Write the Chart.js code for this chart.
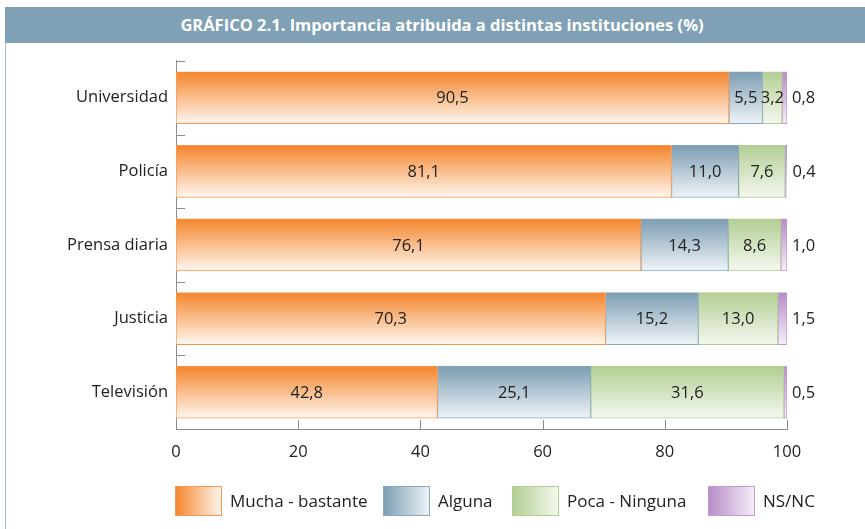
<!DOCTYPE html>
<html>
<head>
<meta charset="utf-8">
<script src="https://cdn.jsdelivr.net/npm/chart.js@4.4.0/dist/chart.umd.min.js"></script>
<style>
  body { margin: 0; background: #fff; width: 865px; height: 529px; overflow: hidden; position: relative; font-family: "Open Sans", sans-serif; }
  #title { position: absolute; left: 5px; top: 7px; width: 860px; height: 36px; background: #80a1b5; color: #fff; font-weight: bold; font-size: 16.5px; line-height: 36px; text-align: center; text-indent: 14px; }
  #frame { position: absolute; left: 5px; top: 43px; width: 1px; height: 486px; background: #a9bfcd; }
  #wrap { position: absolute; left: 0; top: 43px; width: 865px; height: 486px; }
</style>
</head>
<body>
<div id="title">GRÁFICO 2.1. Importancia atribuida a distintas instituciones (%)</div>
<div id="frame"></div>
<div id="wrap"><canvas id="chart" width="865" height="486"></canvas></div>
<script>
const categories = ['Universidad', 'Policía', 'Prensa diaria', 'Justicia', 'Televisión'];
const seriesNames = ['Mucha - bastante', 'Alguna', 'Poca - Ninguna', 'NS/NC'];
const mucha = [90.5, 81.1, 76.1, 70.3, 42.8];
const alguna = [5.5, 11.0, 14.3, 15.2, 25.1];
const poca = [3.2, 7.6, 8.6, 13.0, 31.6];
const nsnc = [0.8, 0.4, 1.0, 1.5, 0.5];
const xTicks = [0, 20, 40, 60, 80, 100];

// colores: [oscuro, claro, borde]
const palette = [
    ['#f4852b', '#fff7f0', '#f59a55'],
    ['#7c9db3', '#f0f4f8', '#8aa8bc'],
    ['#b2ce93', '#f5f8f0', '#b2ce93'],
    ['#b78bc7', '#f5eff8', '#c29ad0']
];

const BAR_H = 52;
const FONT = '"Open Sans", sans-serif';

function barGradient(idx) {
    return function (context) {
        const chart = context.chart;
        const y = chart.scales.y;
        if (!y || context.dataIndex === undefined) return palette[idx][0];
        const cy = y.getPixelForValue(context.dataIndex);
        if (!isFinite(cy)) return palette[idx][0];
        const g = chart.ctx.createLinearGradient(0, cy - BAR_H / 2, 0, cy + BAR_H / 2);
        g.addColorStop(0, palette[idx][0]);
        g.addColorStop(1, palette[idx][1]);
        return g;
    };
}

const fmt = v => v.toFixed(1).replace('.', ',');

const valueLabels = {
    id: 'valueLabels',
    afterDatasetsDraw(chart) {
        const ctx = chart.ctx;
        ctx.save();
        ctx.font = '16.5px ' + FONT;
        ctx.fillStyle = '#222';
        ctx.textBaseline = 'middle';
        chart.data.datasets.forEach((ds, di) => {
            const meta = chart.getDatasetMeta(di);
            meta.data.forEach((bar, i) => {
                const v = ds.data[i];
                if (di < 3) {
                    ctx.textAlign = 'center';
                    ctx.fillText(fmt(v), (bar.x + bar.base) / 2, bar.y + 1);
                } else {
                    ctx.textAlign = 'left';
                    ctx.fillText(fmt(v), bar.x + 5, bar.y + 1);
                }
            });
        });
        ctx.restore();
    }
};

// marcas hacia dentro en ambos ejes
const innerTicks = {
    id: 'innerTicks',
    afterDraw(chart) {
        const { ctx, chartArea: { left, top, bottom } } = chart;
        const x = chart.scales.x, y = chart.scales.y;
        ctx.save();
        ctx.strokeStyle = '#8c8c8c';
        ctx.lineWidth = 1;
        ctx.beginPath();
        xTicks.forEach(t => {
            const px = Math.round(x.getPixelForValue(t)) + 0.5;
            ctx.moveTo(px, bottom);
            ctx.lineTo(px, bottom - 9);
        });
        for (let i = 0; i < categories.length; i++) {
            const py = Math.round(y.getPixelForValue(i - 0.5)) + 0.5;
            ctx.moveTo(left, py);
            ctx.lineTo(left + 9, py);
        }
        ctx.stroke();
        ctx.restore();
    }
};

const boxLegend = {
    id: 'boxLegend',
    afterDraw(chart) {
        const ctx = chart.ctx;
        const boxes = [175, 383, 512, 708];
        const top = 443, w = 47, h = 30;
        ctx.save();
        ctx.font = '17px ' + FONT;
        ctx.textBaseline = 'middle';
        ctx.textAlign = 'left';
        seriesNames.forEach((name, i) => {
            const bx = boxes[i];
            const g = ctx.createLinearGradient(bx, 0, bx + w, 0);
            g.addColorStop(0, palette[i][0]);
            g.addColorStop(1, palette[i][1]);
            ctx.fillStyle = g;
            ctx.fillRect(bx, top, w, h);
            ctx.strokeStyle = palette[i][2];
            ctx.lineWidth = 1;
            ctx.strokeRect(bx + 0.5, top + 0.5, w - 1, h - 1);
            ctx.fillStyle = '#222';
            ctx.fillText(name, bx + w + 8, top + h / 2 + 1);
        });
        ctx.restore();
    }
};

const datasets = [mucha, alguna, poca, nsnc].map((data, i) => ({
    label: seriesNames[i],
    data: data,
    backgroundColor: barGradient(i),
    borderColor: palette[i][2],
    borderWidth: 1,
    borderSkipped: false,
    barThickness: BAR_H
}));

new Chart(document.getElementById('chart'), {
    type: 'bar',
    data: { labels: categories, datasets: datasets },
    options: {
        indexAxis: 'y',
        responsive: false,
        animation: false,
        layout: { padding: { left: 0, right: 78, top: 17, bottom: 60 } },
        plugins: {
            legend: { display: false },
            tooltip: { enabled: false },
            title: { display: false }
        },
        scales: {
            x: {
                stacked: true,
                min: 0,
                max: 100,
                afterBuildTicks(scale) { scale.ticks = xTicks.map(v => ({ value: v })); },
                afterFit(scale) { scale.height = 40; },
                grid: { display: false, drawTicks: false },
                border: { display: true, color: '#8c8c8c', width: 1 },
                ticks: { color: '#222', font: { family: FONT, size: 16.5 }, padding: 13 }
            },
            y: {
                stacked: true,
                afterFit(scale) { scale.width = 176; },
                grid: { display: false, drawTicks: false },
                border: { display: true, color: '#8c8c8c', width: 1 },
                ticks: { color: '#222', font: { family: FONT, size: 16.5 }, padding: 8 }
            }
        }
    },
    plugins: [valueLabels, innerTicks, boxLegend]
});
</script>
</body>
</html>
